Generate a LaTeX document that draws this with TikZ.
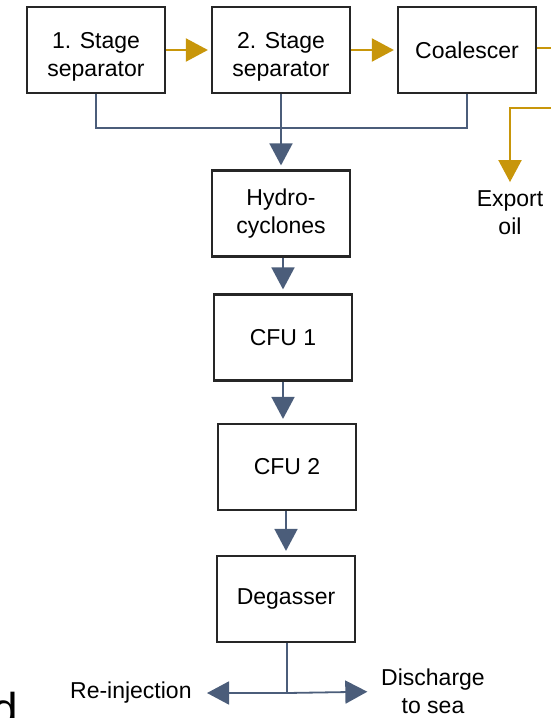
\documentclass[tikz,border=0pt]{standalone}
\usepackage{fontspec}
\setmainfont{Liberation Sans}
\usetikzlibrary{arrows.meta,calc,positioning}
\definecolor{oilcol}{RGB}{200,150,10}
\definecolor{watercol}{RGB}{75,93,122}
\tikzset{
    box/.style ={rectangle, draw=black!85, line width=1.1pt, minimum width=69pt, minimum height=43pt,
                 inner sep=0pt, align=center, font=\fontsize{11.5}{14}\selectfont},
    lbl/.style = {inner sep=0pt, align=center, font=\fontsize{11.5}{14}\selectfont},
    oilline/.style = {draw=oilcol, line width=1pt},
    oil/.style = {oilline, -{Triangle[length=11pt,width=11.5pt]}, shorten >=1.5pt},
    wline/.style = {draw=watercol, line width=0.9pt},
    water/.style = {wline, -{Triangle[length=11pt,width=11.5pt]}, shorten >=2pt}
}
\begin{document}
\begin{tikzpicture}[x=0.5pt,y=-0.5pt]
      \useasboundingbox (0,0) rectangle (551,718);
      \node[box,text height=28.4pt] (s1) at (96,50) {1. Stage\\separator};
      \node[box,text height=28.4pt] (s2) at (281,50) {2. Stage\\separator};
      \node[box] (co) at (467,50) {Coalescer};
      \node[box] (hc) at (281,213.5) {Hydro-\\cyclones};
      \node[box] (f1) at (283,337.5) {CFU 1};
      \node[box] (f2) at (287,467) {CFU 2};
      \node[box] (dg) at (286,599) {Degasser};

      \node[lbl] (ex) at (510,212.5) {Export\\oil};
      \node[lbl,anchor=east] (ri) at (192,693) {Re-injection};
      \node[lbl] (ds) at (433,691.5) {Discharge\\to sea};
      \node[anchor=base west,inner sep=0pt,font=\fontsize{23}{23}\selectfont] (d) at (-8,725) {d};

      \coordinate (oilout) at (551,48);
      \coordinate (oilin) at (551,108);
      \coordinate (wj) at (283,128);
      \coordinate (bj) at (287,693);

      % oil
      \path (s1) edge[oil] (s2);
      \path (s2) edge[oil] (co);
      \draw[oilline] (co.east |- oilout) -- (oilout);
      \draw[oil,shorten >=4pt] (oilin) -| (ex.north);

      % water
      \draw[wline] (s1.south) |- (co.south |- wj) -- (co.south);
      \draw[water] (s2.south) -- (hc.north);
      \draw[water] (hc.south -| f1.north) -- (f1.north);
      \draw[water] (f1.south) -- (f1.south |- f2.north);
      \draw[water] (dg.north |- f2.south) -- (dg.north);
      \draw[wline] (dg.south -| bj) -- (bj);
      \draw[water,shorten >=7.5pt] (bj) -- (ri.east);
      \draw[water,shorten >=6.75pt] (bj) -- (ds.west);
\end{tikzpicture}
\end{document}
